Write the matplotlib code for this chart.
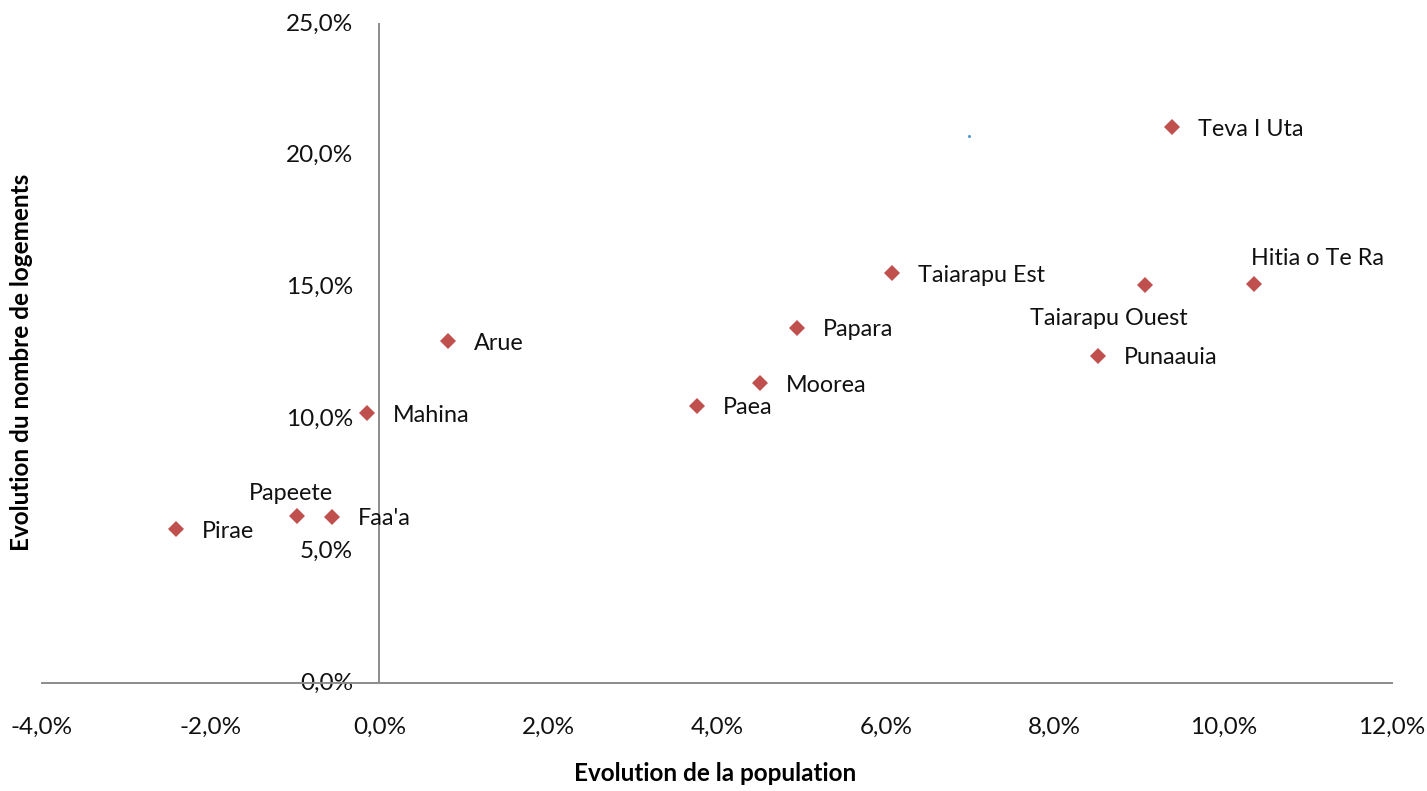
"""Evolution du nombre de logements vs evolution de la population, par commune."""

import matplotlib

matplotlib.use("Agg")
import matplotlib.pyplot as plt
from matplotlib.ticker import FuncFormatter

plt.rcParams["font.family"] = ["Lato", "DejaVu Sans"]

COMMUNES = [
    "Pirae", "Papeete", "Faa'a", "Mahina", "Arue", "Paea", "Moorea", "Papara",
    "Taiarapu Est", "Punaauia", "Taiarapu Ouest", "Hitia o Te Ra", "Teva I Uta",
]
POPULATION = [-2.41, -0.98, -0.56, -0.15, 0.81, 3.76, 4.51, 4.95, 6.07, 8.51, 9.07, 10.36, 9.39]
LOGEMENTS = [5.84, 6.34, 6.30, 10.24, 12.97, 10.51, 11.38, 13.47, 15.55, 12.41, 15.10, 15.14, 21.09]
STRAY_X = [6.99]
STRAY_Y = [20.75]

# label placement (pixel offsets, alignment)
LABEL_POS = {
    "Papeete": ((-6, 22), "center"),
    "Taiarapu Ouest": ((-36, -34), "center"),
    "Hitia o Te Ra": ((64, 25), "center"),
}


def pct(v, _pos):
    return f"{v:.1f}%".replace(".", ",")


def main():
    fig = plt.figure(figsize=(14.27, 7.91), dpi=100)
    ax = fig.add_axes([0.0294, 0.1365, 0.9461, 0.8332])

    ax.plot(POPULATION, LOGEMENTS, linestyle="none", marker="D", markersize=8.6,
            color="#C0504D", markeredgewidth=0)
    ax.plot(STRAY_X, STRAY_Y, linestyle="none", marker="o", markersize=2.2,
            color="#4F9BD0", markeredgewidth=0)

    for name, x, y in zip(COMMUNES, POPULATION, LOGEMENTS):
        offset, ha = LABEL_POS.get(name, ((26, -2), "left"))
        ax.annotate(name, (x, y), xytext=offset, textcoords="offset pixels",
                    ha=ha, va="center", fontsize=16.8, color="#111111")

    ax.set_xlim(-4, 12)
    ax.set_ylim(0, 25)
    ax.set_xticks(range(-4, 13, 2))
    ax.set_yticks(range(0, 26, 5))
    ax.xaxis.set_major_formatter(FuncFormatter(pct))
    ax.yaxis.set_major_formatter(FuncFormatter(pct))

    for side in ("top", "right"):
        ax.spines[side].set_visible(False)
    ax.spines["left"].set_position(("data", 0))
    for side in ("left", "bottom"):
        ax.spines[side].set_color("#8C8C8C")
        ax.spines[side].set_linewidth(1.4)

    ax.tick_params(axis="both", length=0, labelsize=17.5, colors="#111111")
    ax.tick_params(axis="x", pad=24)
    ax.tick_params(axis="y", pad=19)
    for lbl in ax.get_yticklabels():
        lbl.set_verticalalignment("center")

    fig.text(0.501, 0.008, "Evolution de la population", ha="center", va="bottom",
             fontsize=17.5, fontweight="bold")
    fig.text(0.015, 0.542, "Evolution du nombre de logements", ha="center", va="center",
             rotation=90, fontsize=17.5, fontweight="bold")

    fig.savefig("out.png", dpi=100)


if __name__ == "__main__":
    main()
